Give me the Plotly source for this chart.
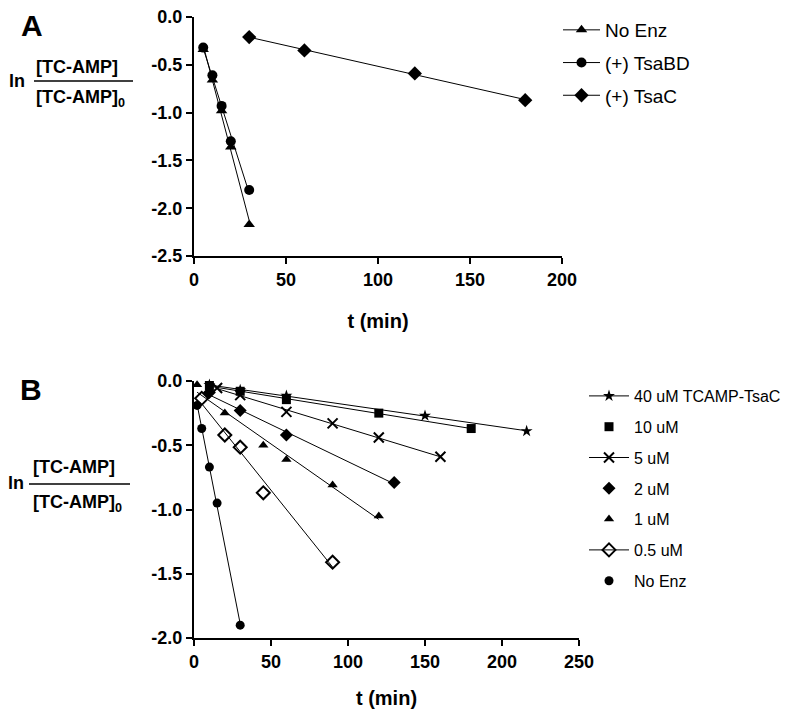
import numpy as np
import plotly.graph_objects as go

# The page body adds an 8px margin, so the figure is 8px smaller than the window
OFF = 8
W, H = 795 - OFF, 709 - OFF


def X(p):
    return (p - OFF) / W


def Y(p):
    return 1 - (p - OFF) / H


# ---------------- Panel A data ----------------
tA = [5, 10, 15, 20, 30]
noenzA = [-0.34, -0.66, -0.98, -1.36, -2.17]
tsabdA = [-0.32, -0.61, -0.93, -1.30, -1.81]
tA_tsac = [30, 60, 120, 180]
tsacA = [-0.21, -0.35, -0.59, -0.87]

xticksA = [0, 50, 100, 150, 200]
yticksA = [0, -0.5, -1.0, -1.5, -2.0, -2.5]
yticklabelsA = ["0.0", "-0.5", "-1.0", "-1.5", "-2.0", "-2.5"]

# ---------------- Panel B data ----------------
t_40 = [10, 30, 60, 150, 216]
y_40 = [-0.03, -0.07, -0.115, -0.27, -0.39]
t_10 = [10, 30, 60, 120, 180]
y_10 = [-0.035, -0.08, -0.145, -0.25, -0.37]
t_5 = [15, 30, 60, 90, 120, 160]
y_5 = [-0.055, -0.11, -0.24, -0.33, -0.44, -0.59]
t_2 = [10, 30, 60, 130]
y_2 = [-0.09, -0.23, -0.42, -0.79]
t_1 = [2, 20, 45, 60, 90, 120]
y_1 = [-0.03, -0.25, -0.50, -0.61, -0.81, -1.05]
t_05 = [5, 20, 30, 45, 90]
y_05 = [-0.135, -0.42, -0.515, -0.87, -1.41]
t_ne = [2, 5, 10, 15, 30]
y_ne = [-0.19, -0.37, -0.67, -0.95, -1.90]

xticksB = [0, 50, 100, 150, 200, 250]
yticksB = [0, -0.5, -1.0, -1.5, -2.0]
yticklabelsB = ["0.0", "-0.5", "-1.0", "-1.5", "-2.0"]

FONT = "Liberation Sans, Arial, sans-serif"

fig = go.Figure()


def add_series(t, y, name, symbol, size, xa, ya, legend, legend_line, lw=0):
    coef = np.polyfit(t, y, 1)
    xs = [min(t), max(t)]
    ys = list(np.polyval(coef, xs))
    fig.add_trace(go.Scatter(x=xs, y=ys, mode="lines", line=dict(color="black", width=1),
                             showlegend=False, xaxis=xa, yaxis=ya, hoverinfo="skip"))
    mk = dict(symbol=symbol, size=size, color="black", line=dict(color="black", width=lw))
    fig.add_trace(go.Scatter(x=t, y=y, mode="markers", marker=mk, showlegend=False,
                             xaxis=xa, yaxis=ya, cliponaxis=False))
    fig.add_trace(go.Scatter(x=[None], y=[None], mode="lines+markers" if legend_line else "markers",
                             line=dict(color="black", width=1), marker=mk, name=name,
                             legend=legend, legendgroup=name + legend, showlegend=True,
                             xaxis=xa, yaxis=ya))


# Panel A
add_series(tA, noenzA, "No Enz", "triangle-up", 10, "x", "y", "legend", True)
add_series(tA, tsabdA, "(+) TsaBD", "circle", 10, "x", "y", "legend", True)
add_series(tA_tsac, tsacA, "(+) TsaC", "diamond", 11, "x", "y", "legend", True)

# Panel B
add_series(t_40, y_40, "40 uM TCAMP-TsaC", "star", 9, "x2", "y2", "legend2", True)
add_series(t_10, y_10, "10 uM", "square", 9, "x2", "y2", "legend2", False)
add_series(t_5, y_5, "5 uM", "x-thin", 10, "x2", "y2", "legend2", True, lw=2)
add_series(t_2, y_2, "2 uM", "diamond", 10, "x2", "y2", "legend2", False)
add_series(t_1, y_1, "1 uM", "triangle-up", 9, "x2", "y2", "legend2", False)
add_series(t_05, y_05, "0.5 uM", "diamond-open", 10, "x2", "y2", "legend2", True, lw=2)
add_series(t_ne, y_ne, "No Enz", "circle", 9, "x2", "y2", "legend2", False)

axis_common = dict(showline=True, linewidth=2, linecolor="black", ticks="outside",
                   ticklen=6, tickwidth=2, tickcolor="black", showgrid=False, zeroline=False,
                   automargin=False, ticklabeloverflow="allow",
                   tickfont=dict(family=FONT, size=18, color="black", weight="bold"))

fig.update_layout(
    width=W, height=H, margin=dict(l=0, r=0, t=0, b=0, autoexpand=False),
    paper_bgcolor="white", plot_bgcolor="white",
    xaxis=dict(domain=[X(194), X(562)], range=[0, 200], tickvals=xticksA, anchor="y",
               title=dict(text="t (min)", standoff=25,
                          font=dict(family=FONT, size=20, color="black", weight="bold")),
               **axis_common),
    yaxis=dict(domain=[Y(256), Y(17)], range=[-2.5, 0], tickvals=yticksA,
               ticktext=yticklabelsA, anchor="x", **axis_common),
    xaxis2=dict(domain=[X(194), X(579)], range=[0, 250], tickvals=xticksB, anchor="y2",
                title=dict(text="t (min)", standoff=22,
                           font=dict(family=FONT, size=20, color="black", weight="bold")),
                **axis_common),
    yaxis2=dict(domain=[Y(638), Y(381)], range=[-2.0, 0], tickvals=yticksB,
                ticktext=yticklabelsB, anchor="x2", **axis_common),
    legend=dict(x=X(558), y=Y(11), xanchor="left", yanchor="top",
                font=dict(family=FONT, size=19, color="black"), itemwidth=37,
                tracegroupgap=5, traceorder="grouped", bgcolor="rgba(0,0,0,0)"),
    legend2=dict(x=X(584), y=Y(379), xanchor="left", yanchor="top",
                 font=dict(family=FONT, size=16, color="black"), itemwidth=40,
                 tracegroupgap=7, traceorder="grouped", bgcolor="rgba(0,0,0,0)"),
)

lab_font = dict(family=FONT, size=18, color="black", weight="bold")
ann = [
    dict(text="A", x=X(32), y=Y(26), font=dict(family=FONT, size=30, color="black", weight="bold")),
    dict(text="B", x=X(31), y=Y(389), font=dict(family=FONT, size=30, color="black", weight="bold")),
    dict(text="ln", x=X(17), y=Y(81), font=lab_font),
    dict(text="[TC-AMP]", x=X(77), y=Y(67), font=lab_font),
    dict(text="[TC-AMP]<sub>0</sub>", x=X(80), y=Y(98), font=lab_font),
    dict(text="ln", x=X(16), y=Y(483), font=lab_font),
    dict(text="[TC-AMP]", x=X(74), y=Y(467), font=lab_font),
    dict(text="[TC-AMP]<sub>0</sub>", x=X(77), y=Y(503), font=lab_font),
]
for a in ann:
    fig.add_annotation(xref="paper", yref="paper", showarrow=False, xanchor="center",
                       yanchor="middle", **a)

fig.add_shape(type="line", xref="paper", yref="paper", x0=X(34), x1=X(133),
              y0=Y(81), y1=Y(81), line=dict(color="black", width=1.5))
fig.add_shape(type="line", xref="paper", yref="paper", x0=X(29), x1=X(130),
              y0=Y(484), y1=Y(484), line=dict(color="black", width=1.5))

fig.write_html("out.html")
